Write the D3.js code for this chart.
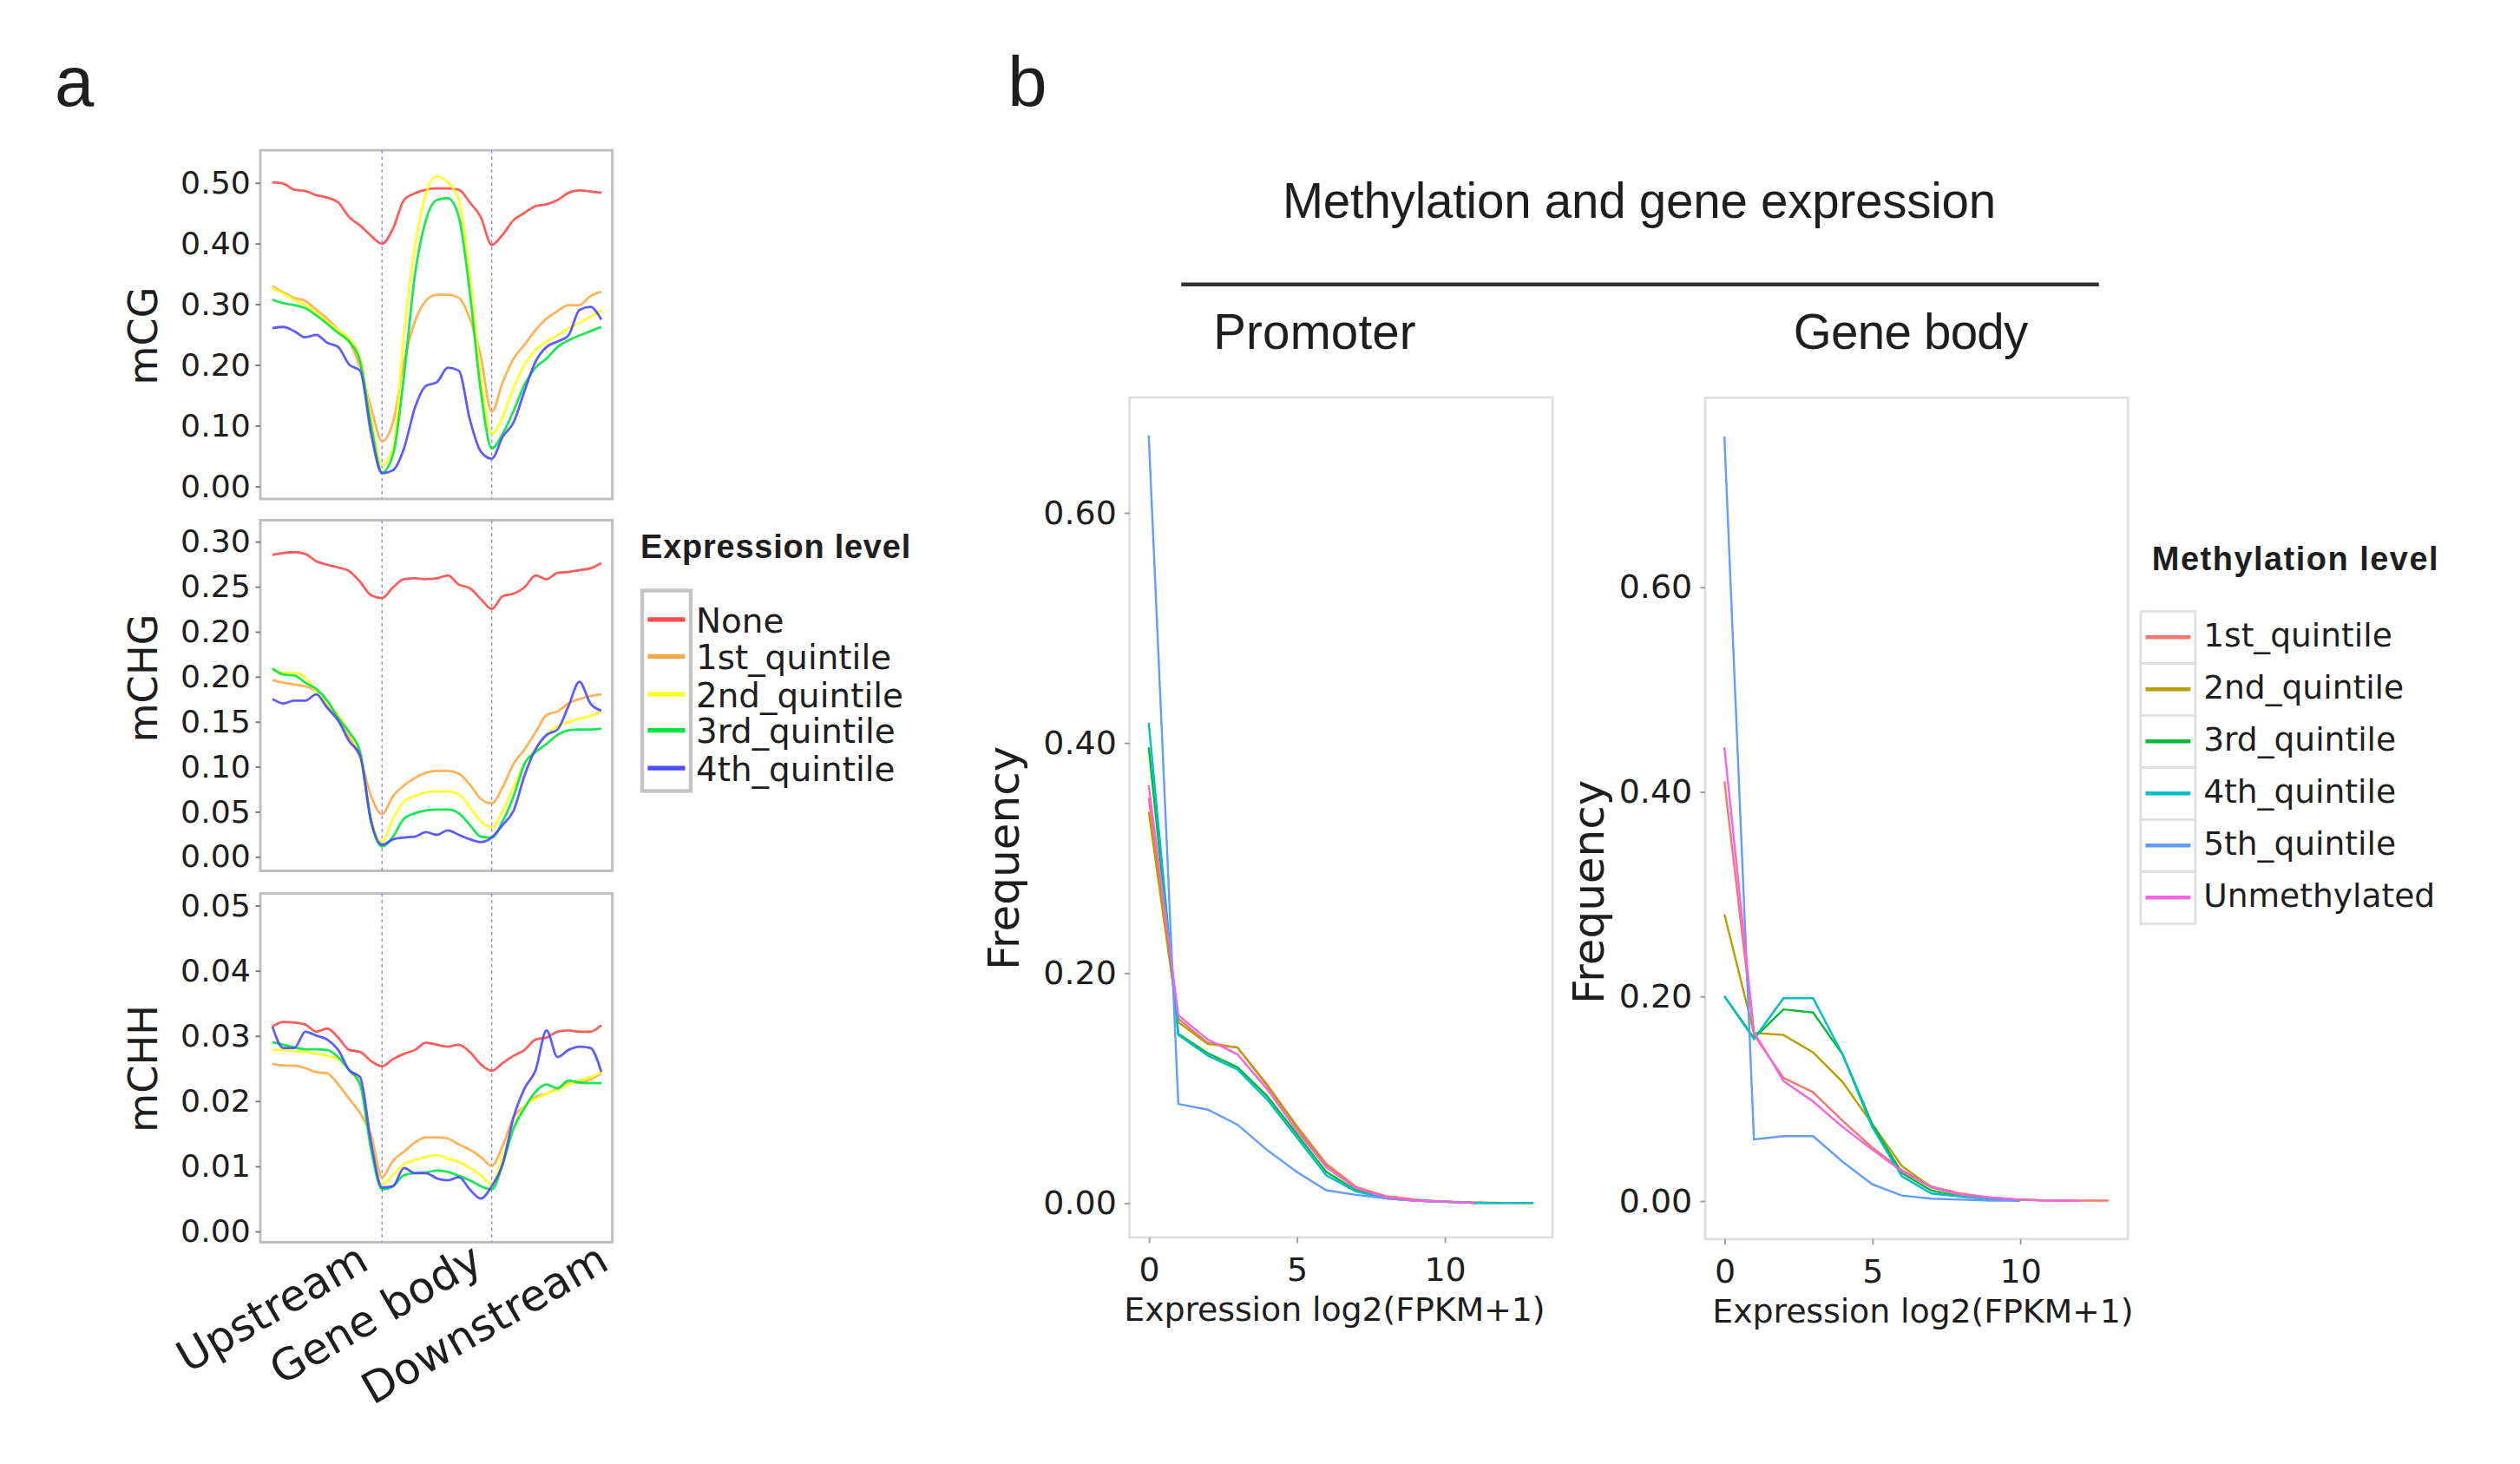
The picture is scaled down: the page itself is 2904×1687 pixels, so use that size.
<!DOCTYPE html>
<html lang="en">
<head>
<meta charset="UTF-8">
<script src="https://d3js.org/d3.v7.min.js"></script>
<title>Methylation profiles</title>
<style>
  body { margin: 0; background: #fff; }
  text { font-family: "DejaVu Sans", sans-serif; fill: #1e1e1e; }
  .lib { font-family: "Liberation Sans", Arial, sans-serif; }
</style>
</head>
<body>
<svg id="fig" width="2904" height="1687" viewBox="0 0 1568 911" preserveAspectRatio="none"></svg>
<script>
// ---- panel a data: position along upstream / gene body / downstream
let pos = [0, 10, 20, 30, 40, 50, 60, 70, 80, 90, 100, 110, 120, 130, 140, 150,
  160, 170, 180, 190, 200, 210, 220, 230, 240, 250, 260, 270, 280, 290, 300];
let regionBounds = [100, 200];
let regionTicks = [100, 200, 300];
let regionLabels = ['Upstream', 'Gene body', 'Downstream'];
let exprLevels = ['None', '1st_quintile', '2nd_quintile', '3rd_quintile', '4th_quintile'];
let exprColors = ['#ff4a4a', '#ffab45', '#ffff1a', '#00e640', '#4b4bff'];

let mcgNone = [0.500, 0.498, 0.488, 0.486, 0.479, 0.475, 0.467, 0.443, 0.429, 0.412, 0.399,
  0.424, 0.471, 0.482, 0.488, 0.490, 0.490, 0.488, 0.467, 0.443, 0.397, 0.414, 0.438,
  0.450, 0.461, 0.464, 0.471, 0.483, 0.487, 0.485, 0.483];
let mcg1st = [0.329, 0.319, 0.310, 0.305, 0.290, 0.276, 0.257, 0.238, 0.195, 0.129, 0.074,
  0.105, 0.205, 0.271, 0.305, 0.315, 0.315, 0.310, 0.276, 0.214, 0.122, 0.171, 0.210,
  0.233, 0.257, 0.276, 0.288, 0.298, 0.298, 0.313, 0.320];
let mcg2nd = [0.326, 0.317, 0.307, 0.298, 0.286, 0.271, 0.257, 0.243, 0.210, 0.110, 0.035,
  0.062, 0.252, 0.395, 0.481, 0.510, 0.500, 0.471, 0.348, 0.181, 0.086, 0.114, 0.162,
  0.200, 0.224, 0.238, 0.248, 0.260, 0.269, 0.279, 0.290];
let mcg3rd = [0.307, 0.301, 0.298, 0.293, 0.281, 0.267, 0.252, 0.238, 0.205, 0.100, 0.022,
  0.052, 0.181, 0.348, 0.438, 0.471, 0.474, 0.443, 0.319, 0.157, 0.062, 0.086, 0.124,
  0.167, 0.195, 0.210, 0.229, 0.240, 0.248, 0.255, 0.262];
let mcg4th = [0.260, 0.262, 0.255, 0.245, 0.249, 0.236, 0.229, 0.200, 0.190, 0.086, 0.021,
  0.026, 0.062, 0.129, 0.165, 0.171, 0.195, 0.190, 0.110, 0.057, 0.045, 0.081, 0.105,
  0.157, 0.205, 0.229, 0.238, 0.248, 0.290, 0.295, 0.274];

// mCHG axis: evenly spaced ticks carrying the labels printed in the figure
let chgTickVals = [0, 0.05, 0.10, 0.15, 0.20, 0.25, 0.30, 0.35];
let chgTickLabels = ['0.00', '0.05', '0.10', '0.15', '0.20', '0.20', '0.25', '0.30'];
let chgNone = [0.335, 0.337, 0.338, 0.336, 0.328, 0.324, 0.321, 0.317, 0.305, 0.290, 0.287,
  0.299, 0.308, 0.309, 0.308, 0.309, 0.312, 0.302, 0.298, 0.286, 0.275, 0.289, 0.292,
  0.299, 0.312, 0.308, 0.315, 0.316, 0.318, 0.320, 0.326];
let chg1st = [0.196, 0.193, 0.191, 0.189, 0.183, 0.167, 0.151, 0.132, 0.109, 0.067, 0.047,
  0.067, 0.079, 0.087, 0.093, 0.095, 0.095, 0.092, 0.080, 0.064, 0.059, 0.077, 0.103,
  0.119, 0.138, 0.157, 0.161, 0.170, 0.175, 0.178, 0.180];
let chg2nd = [0.207, 0.204, 0.204, 0.199, 0.183, 0.170, 0.157, 0.138, 0.109, 0.042, 0.016,
  0.042, 0.061, 0.067, 0.071, 0.072, 0.072, 0.069, 0.055, 0.039, 0.032, 0.051, 0.077,
  0.103, 0.119, 0.135, 0.145, 0.149, 0.153, 0.156, 0.161];
let chg3rd = [0.209, 0.202, 0.201, 0.193, 0.186, 0.173, 0.154, 0.138, 0.116, 0.039, 0.011,
  0.022, 0.042, 0.048, 0.051, 0.052, 0.052, 0.048, 0.035, 0.022, 0.021, 0.039, 0.067,
  0.103, 0.116, 0.125, 0.135, 0.140, 0.141, 0.141, 0.142];
let chg4th = [0.175, 0.170, 0.173, 0.173, 0.180, 0.165, 0.151, 0.128, 0.112, 0.039, 0.013,
  0.019, 0.021, 0.022, 0.027, 0.024, 0.029, 0.024, 0.019, 0.016, 0.021, 0.035, 0.051,
  0.090, 0.119, 0.135, 0.141, 0.167, 0.194, 0.170, 0.162];

let chhNone = [0.0314, 0.0321, 0.0320, 0.0317, 0.0306, 0.0311, 0.0297, 0.0278, 0.0275, 0.0261,
  0.0253, 0.0264, 0.0272, 0.0278, 0.0289, 0.0286, 0.0283, 0.0286, 0.0275, 0.0256, 0.0246,
  0.0258, 0.0269, 0.0278, 0.0294, 0.0297, 0.0306, 0.0308, 0.0306, 0.0306, 0.0316];
let chh1st = [0.0257, 0.0254, 0.0254, 0.0250, 0.0244, 0.0242, 0.0225, 0.0203, 0.0181, 0.0147,
  0.0083, 0.0108, 0.0122, 0.0136, 0.0144, 0.0144, 0.0142, 0.0133, 0.0125, 0.0114, 0.0100,
  0.0131, 0.0175, 0.0192, 0.0206, 0.0211, 0.0219, 0.0228, 0.0228, 0.0233, 0.0242];
let chh2nd = [0.0278, 0.0278, 0.0276, 0.0275, 0.0272, 0.0269, 0.0264, 0.0247, 0.0225, 0.0136,
  0.0072, 0.0086, 0.0103, 0.0109, 0.0114, 0.0117, 0.0111, 0.0106, 0.0097, 0.0086, 0.0072,
  0.0114, 0.0158, 0.0192, 0.0203, 0.0211, 0.0217, 0.0225, 0.0231, 0.0236, 0.0244];
let chh3rd = [0.0290, 0.0286, 0.0282, 0.0279, 0.0279, 0.0278, 0.0267, 0.0247, 0.0225, 0.0125,
  0.0064, 0.0069, 0.0086, 0.0089, 0.0090, 0.0093, 0.0091, 0.0085, 0.0078, 0.0069, 0.0064,
  0.0103, 0.0158, 0.0189, 0.0214, 0.0225, 0.0219, 0.0231, 0.0228, 0.0227, 0.0227];
let chh4th = [0.0314, 0.0281, 0.0281, 0.0306, 0.0300, 0.0294, 0.0278, 0.0247, 0.0236, 0.0136,
  0.0067, 0.0069, 0.0097, 0.0089, 0.0089, 0.0081, 0.0078, 0.0083, 0.0064, 0.0050, 0.0069,
  0.0103, 0.0175, 0.0219, 0.0247, 0.0308, 0.0267, 0.0278, 0.0283, 0.0281, 0.0244];

// ---- panel b data: frequency over expression log2(FPKM+1)
let exprBins = [0, 1, 2, 3, 4, 5, 6, 7, 8, 9, 10, 11, 12, 13];
let methLevels = ['1st_quintile', '2nd_quintile', '3rd_quintile', '4th_quintile', '5th_quintile', 'Unmethylated'];
let methColors = ['#F8766D', '#B79F00', '#00BA38', '#00BFC4', '#619CFF', '#F564E3'];
let freqTicks = [0, 0.2, 0.4, 0.6];
let exprTicks = [0, 5, 10];

let prom1st = [0.352, 0.160, 0.139, 0.135, 0.103, 0.067, 0.034, 0.014, 0.006, 0.003, 0.001, 0.0005, 0, 0];
let prom2nd = [0.340, 0.157, 0.138, 0.135, 0.102, 0.066, 0.032, 0.013, 0.005, 0.002, 0.001, 0, 0];
let prom3rd = [0.396, 0.147, 0.130, 0.118, 0.093, 0.060, 0.027, 0.011, 0.004, 0.002, 0.001, 0, 0, 0];
let prom4th = [0.417, 0.146, 0.128, 0.116, 0.090, 0.057, 0.024, 0.010, 0.004, 0.002, 0.001, 0, 0, 0];
let prom5th = [0.667, 0.086, 0.081, 0.068, 0.046, 0.027, 0.011, 0.007, 0.004, 0.002, 0.001];
let promUnm = [0.363, 0.163, 0.142, 0.129, 0.099, 0.063, 0.031, 0.013, 0.005, 0.002, 0.001, 0];

let gb1st = [0.410, 0.162, 0.120, 0.106, 0.078, 0.052, 0.030, 0.014, 0.007, 0.003, 0.001, 0, 0, 0];
let gb2nd = [0.280, 0.164, 0.162, 0.145, 0.116, 0.075, 0.034, 0.013, 0.006, 0.002, 0.001, 0];
let gb3rd = [0.200, 0.159, 0.187, 0.184, 0.143, 0.075, 0.027, 0.010, 0.004, 0.002, 0];
let gb4th = [0.200, 0.158, 0.198, 0.198, 0.143, 0.072, 0.024, 0.007, 0.004, 0.001, 0];
let gb5th = [0.747, 0.060, 0.063, 0.063, 0.038, 0.016, 0.005, 0.002, 0.001, 0, 0];
let gbUnm = [0.443, 0.165, 0.117, 0.097, 0.072, 0.050, 0.029, 0.013, 0.006, 0.003, 0.001, 0, 0];

const svg = d3.select('#fig');

// ---------- panel a ----------
let profX = d3.scaleLinear().domain([-11, 310]);

function profilePanel(box, yDomain, tickVals, tickLabels, series, yTitle, titleY) {
  let x = profX.copy().range([box.x0, box.x1]);
  let y = d3.scaleLinear().domain(yDomain).range([box.y1, box.y0]);
  let g = svg.append('g');

  g.append('rect')
    .attr('x', box.x0).attr('y', box.y0)
    .attr('width', box.x1 - box.x0).attr('height', box.y1 - box.y0)
    .attr('fill', '#fff').attr('stroke', '#bfbfbf').attr('stroke-width', 1.6);

  g.selectAll('.bound').data(regionBounds).join('line')
    .attr('x1', d => x(d)).attr('x2', d => x(d))
    .attr('y1', box.y0).attr('y2', box.y1)
    .attr('stroke', '#8c8cff').attr('stroke-width', 0.8).attr('stroke-dasharray', '2,2');

  let ax = g.append('g')
    .attr('transform', `translate(${box.x0},0)`)
    .call(d3.axisLeft(y).tickValues(tickVals).tickFormat((d, i) => tickLabels[i]).tickSize(3).tickPadding(3));
  ax.select('.domain').remove();
  ax.selectAll('line').attr('stroke', '#777');
  ax.selectAll('text').attr('font-size', 19.6).attr('fill', '#1e1e1e');

  let line = d3.line().x((d, i) => x(pos[i])).y(d => y(d)).curve(d3.curveMonotoneX);
  series.forEach((s, k) => {
    g.append('path').datum(s)
      .attr('d', line)
      .attr('fill', 'none')
      .attr('stroke', exprColors[k])
      .attr('stroke-width', 1.5)
      .attr('stroke-opacity', 0.9);
  });

  g.append('text')
    .attr('transform', `translate(97.5,${titleY}) rotate(-90)`)
    .attr('text-anchor', 'middle')
    .attr('font-size', 25)
    .text(yTitle);
  return x;
}

svg.append('text').attr('class', 'lib').attr('x', 34).attr('y', 66).attr('font-size', 44).text('a');

profilePanel({ x0: 162, x1: 381, y0: 93.5, y1: 310.5 }, [-0.0213, 0.553],
  [0, 0.1, 0.2, 0.3, 0.4, 0.5], ['0.00', '0.10', '0.20', '0.30', '0.40', '0.50'],
  [mcgNone, mcg1st, mcg2nd, mcg3rd, mcg4th], 'mCG', 209);

profilePanel({ x0: 162, x1: 381, y0: 323.7, y1: 541.9 }, [-0.016, 0.3735],
  chgTickVals, chgTickLabels,
  [chgNone, chg1st, chg2nd, chg3rd, chg4th], 'mCHG', 422);

let xa = profilePanel({ x0: 162, x1: 381, y0: 556, y1: 773 }, [-0.0017, 0.0518],
  [0, 0.01, 0.02, 0.03, 0.04, 0.05], ['0.00', '0.01', '0.02', '0.03', '0.04', '0.05'],
  [chhNone, chh1st, chh2nd, chh3rd, chh4th], 'mCHH', 665);

let labelShift = [-7, -4, 6];
svg.append('g').selectAll('text').data(regionTicks).join('text')
  .attr('transform', (d, i) => `translate(${xa(d) + labelShift[i]},789) rotate(-30)`)
  .attr('text-anchor', 'end')
  .attr('font-size', 27)
  .text((d, i) => regionLabels[i]);

// legend a
let legA = svg.append('g');
legA.append('text').attr('class', 'lib').attr('x', 398.5).attr('y', 347)
  .attr('font-size', 20.5).attr('font-weight', 'bold').attr('textLength', 168).text('Expression level');
legA.append('rect').attr('x', 399.6).attr('y', 367.5).attr('width', 30.2).attr('height', 124.7)
  .attr('fill', '#fff').attr('stroke', '#c4c4c4').attr('stroke-width', 2.4);
let legAy = [385.5, 408.5, 432, 454.5, 478];
exprLevels.forEach((lv, i) => {
  legA.append('line').attr('x1', 403).attr('x2', 426.3).attr('y1', legAy[i]).attr('y2', legAy[i])
    .attr('stroke', exprColors[i]).attr('stroke-width', 2.8);
  legA.append('text').attr('x', 433).attr('y', legAy[i] + 8).attr('font-size', 21).text(lv);
});

// ---------- panel b ----------
svg.append('text').attr('class', 'lib').attr('x', 627).attr('y', 66).attr('font-size', 44).text('b');
svg.append('text').attr('class', 'lib').attr('x', 1020).attr('y', 135.5).attr('text-anchor', 'middle')
  .attr('font-size', 30.5).attr('textLength', 444).text('Methylation and gene expression');
svg.append('line').attr('x1', 735).attr('x2', 1306).attr('y1', 177).attr('y2', 177)
  .attr('stroke', '#333').attr('stroke-width', 2.4);
svg.append('text').attr('class', 'lib').attr('x', 755).attr('y', 217).attr('font-size', 30.5)
  .attr('textLength', 126).text('Promoter');
svg.append('text').attr('class', 'lib').attr('x', 1116).attr('y', 217).attr('font-size', 30.5)
  .attr('textLength', 146).text('Gene body');

function freqPanel(box, yDomain, series, titlePos, xTitleShift) {
  let x = d3.scaleLinear().domain([-0.65, 13.65]).range([box.x0, box.x1]);
  let y = d3.scaleLinear().domain(yDomain).range([box.y1, box.y0]);
  let g = svg.append('g');

  g.append('rect')
    .attr('x', box.x0).attr('y', box.y0)
    .attr('width', box.x1 - box.x0).attr('height', box.y1 - box.y0)
    .attr('fill', '#fff').attr('stroke', '#dedede').attr('stroke-width', 1.5);

  let ay = g.append('g').attr('transform', `translate(${box.x0},0)`)
    .call(d3.axisLeft(y).tickValues(freqTicks).tickFormat(d3.format('.2f')).tickSize(3).tickPadding(5));
  ay.select('.domain').remove();
  ay.selectAll('line').attr('stroke', '#999');
  ay.selectAll('text').attr('font-size', 20.5).attr('fill', '#1e1e1e');

  let axx = g.append('g').attr('transform', `translate(0,${box.y1})`)
    .call(d3.axisBottom(x).tickValues(exprTicks).tickSize(3.5).tickPadding(9));
  axx.select('.domain').remove();
  axx.selectAll('line').attr('stroke', '#999');
  axx.selectAll('text').attr('font-size', 20.5).attr('fill', '#1e1e1e');

  let line = d3.line().x((d, i) => x(exprBins[i])).y(d => y(d));
  series.forEach((s, k) => {
    g.append('path').datum(s)
      .attr('d', line)
      .attr('fill', 'none')
      .attr('stroke', methColors[k])
      .attr('stroke-width', 1.3);
  });

  g.append('text')
    .attr('x', (box.x0 + box.x1) / 2 + xTitleShift).attr('y', box.y1 + 52)
    .attr('text-anchor', 'middle').attr('font-size', 20.5).attr('textLength', 262)
    .text('Expression log2(FPKM+1)');
  g.append('text')
    .attr('transform', `translate(${titlePos[0]},${titlePos[1]}) rotate(-90)`)
    .attr('text-anchor', 'middle').attr('font-size', 27)
    .text('Frequency');
}

freqPanel({ x0: 702.8, x1: 966, y0: 247.3, y1: 770 }, [-0.03, 0.70],
  [prom1st, prom2nd, prom3rd, prom4th, prom5th, promUnm], [634, 534], -4);
freqPanel({ x0: 1061, x1: 1324, y0: 247.5, y1: 771 }, [-0.0375, 0.785],
  [gb1st, gb2nd, gb3rd, gb4th, gb5th, gbUnm], [998, 555], 4);

// legend b
let legB = svg.append('g');
legB.append('text').attr('class', 'lib').attr('x', 1339).attr('y', 355)
  .attr('font-size', 20.5).attr('font-weight', 'bold').attr('textLength', 178).text('Methylation level');
methLevels.forEach((lv, i) => {
  let top = 380.5 + i * 32.4;
  legB.append('rect').attr('x', 1332).attr('y', top).attr('width', 34).attr('height', 32.4)
    .attr('fill', '#fff').attr('stroke', '#e0e0e0').attr('stroke-width', 1.6);
  legB.append('line').attr('x1', 1335).attr('x2', 1363).attr('y1', top + 16).attr('y2', top + 16)
    .attr('stroke', methColors[i]).attr('stroke-width', 2.4);
  legB.append('text').attr('x', 1371).attr('y', top + 22).attr('font-size', 20.3).text(lv);
});
</script>
</body>
</html>
